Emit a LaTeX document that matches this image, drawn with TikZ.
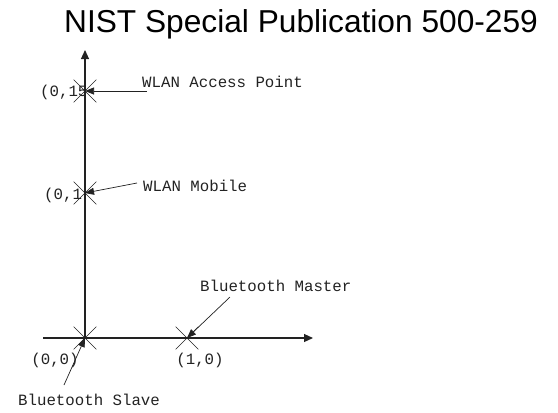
\documentclass[tikz,border=0pt]{standalone}
\usepackage{fontspec}
\setmainfont{Liberation Sans}
\setmonofont{Liberation Mono}
\usetikzlibrary{arrows.meta,shapes.misc}
\definecolor{ink}{HTML}{222222}

\tikzset{
  axis/.style={ink,line width=1.1bp,-{Triangle[length=9bp,width=8bp]}},
  xmark/.style={draw=ink,cross out,minimum size=22bp,inner sep=0pt,line width=.6bp},
  lbl/.style={font=\ttfamily\fontsize{15.8}{15.8}\selectfont,text=ink,inner sep=0pt,anchor=west},
  pointer/.style={ink,line width=.7bp,-{Triangle[length=9bp,width=7bp]}}
}

\begin{document}
\begin{tikzpicture}[x=1bp,y=-1bp]
    \path[use as bounding box] (0,0) rectangle (558,412);
    \node[font=\fontsize{31.8}{31.8}\selectfont] (title) at (301,24) {NIST Special Publication 500-259};
    % axes
    \coordinate (xstart) at (43,338);
    \coordinate (xend) at (313,338);
    \coordinate (yend) at (85,50);
    \node[xmark] (p00) at (85,338) {};
    \node[xmark] (p10) at (187,338) {};
    \node[xmark] (p01) at (85,193) {};
    \node[xmark] (p015) at (85,91) {};
    \draw[axis] (xstart) -- (xend);
    \draw[axis] (p00.center) -- (yend);
    % coordinates
    \node[lbl,anchor=center] (l00) at (55,360) {(0,0)};
    \node[lbl,anchor=center] (l10) at (200,360) {(1,0)};
    \node[lbl] (l01) at (44,195) {(0,1};
    \node[lbl] (l015) at (40,92) {(0,15};
    % devices
    \node[lbl] (ap) at (142,82) {WLAN Access Point};
    \node[lbl] (mob) at (143,186) {WLAN Mobile};
    \node[lbl] (bm) at (200,286) {Bluetooth Master};
    \node[lbl] (bs) at (18,400) {Bluetooth Slave};
    \coordinate (ap-t) at (147,91);
    \coordinate (mob-t) at (137,183);
    \coordinate (bm-t) at (230,297);
    \coordinate (bs-t) at (64,385);
    \draw[pointer] (ap-t) -- (p015.center);
    \draw[pointer] (mob-t) -- (p01.center);
    \draw[pointer] (bm-t) -- (p10.center);
    \draw[pointer] (bs-t) -- (p00.center);
  \end{tikzpicture}
\end{document}
